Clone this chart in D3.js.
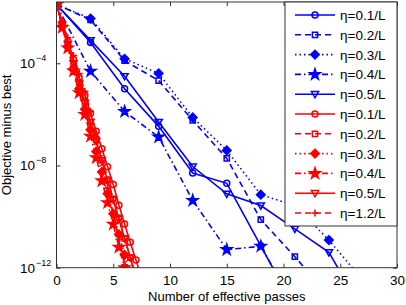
<!DOCTYPE html>
<html lang="en">
<head>
<meta charset="UTF-8">
<title>Objective minus best</title>
<script src="https://d3js.org/d3.v7.min.js"></script>
<style>
    body { margin: 0; background: #fff; }
    text { font-family: "Liberation Sans", Arial, sans-serif; fill: #000; }
</style>
</head>
<body>
<svg id="chart" width="406" height="305"></svg>
<script>
// passes at which the blue runs were recorded
const bluePasses = [0, 3, 6, 9, 12, 15, 18, 21, 24, 27];
// passes for the red runs
const redPasses = [0, 0.5, 1, 1.5, 2, 2.5, 3, 3.5, 4, 4.5, 5, 5.5, 6, 6.5, 7, 7.5, 8];

const blue01 = [2.0e-2, 6.5e-4, 1.0e-5, 3.4e-7, 5.1e-9, 2.0e-9, 7.2e-12, 2.5e-14];
const blue02 = [2.0e-2, 5.0e-3, 1.26e-4, 2.1e-5, 5.8e-7, 1.9e-8, 7.6e-11, 2.7e-12, 7.9e-14];
const blue03 = [2.0e-2, 5.6e-3, 1.5e-4, 4.0e-5, 7.6e-7, 3.9e-8, 7.2e-10, 2.7e-10, 1.2e-11, 3.2e-13];
const blue04 = [2.0e-2, 4.9e-5, 1.3e-6, 1.3e-7, 4.3e-10, 5.1e-12, 6.9e-12, 3.2e-14];
const blue05 = [2.0e-2, 7.9e-4, 3.1e-5, 5.0e-7, 9.1e-9, 7.8e-10, 2.7e-10, 3.3e-11, 4.0e-12, 2.0e-14];

const red01 = [2.0e-2, 3.5e-3, 7.1e-4, 1.4e-4, 2.8e-5, 5.6e-6, 1.1e-6, 2.2e-7, 4.5e-8, 8.9e-9, 1.8e-9, 2.8e-10, 5.1e-11, 1.0e-11, 2.0e-12, 4.0e-13, 7.9e-14];
const red02 = [2.0e-2, 3.2e-3, 5.0e-4, 1.0e-4, 1.8e-5, 3.2e-6, 5.0e-7, 1.0e-7, 1.6e-8, 2.8e-9, 5.0e-10, 8.9e-11, 1.4e-11, 2.5e-12, 4.5e-13];
const red03 = [2.0e-2, 2.8e-3, 4.5e-4, 6.3e-5, 1.0e-5, 1.6e-6, 2.5e-7, 3.5e-8, 5.6e-9, 7.9e-10, 1.3e-10, 2.0e-11, 3.2e-12, 5.0e-13];
const red04 = [2.0e-2, 2.5e-3, 4.0e-4, 5.0e-5, 7.1e-6, 1.0e-6, 1.4e-7, 2.0e-8, 2.5e-9, 3.5e-10, 5.0e-11, 6.3e-12, 1.0e-12, 1.3e-13];
const red05 = [2.0e-2, 3.2e-3, 5.6e-4, 1.0e-4, 1.6e-5, 2.8e-6, 5.0e-7, 8.9e-8, 1.6e-8, 2.5e-9, 4.5e-10, 7.9e-11, 1.4e-11, 2.5e-12, 4.0e-13];
const red12 = [2.0e-2, 4.5e-3, 1.0e-3, 2.0e-4, 4.0e-5, 7.9e-6, 1.3e-6, 1.3e-7, 1.3e-8, 1.3e-9, 1.3e-10, 1.3e-11, 1.3e-12, 1.3e-13];

const xTicks = [0, 5, 10, 15, 20, 25, 30];
const yTicks = [1e-12, 1e-8, 1e-4];

const series = [
    { label: "\u03b7=0.1/L", color: "#0000ff", dash: null, marker: "circle", x: bluePasses, y: blue01 },
    { label: "\u03b7=0.2/L", color: "#0000ff", dash: "6,4", marker: "square", x: bluePasses, y: blue02 },
    { label: "\u03b7=0.3/L", color: "#0000ff", dash: "1.5,3", marker: "diamond", x: bluePasses, y: blue03 },
    { label: "\u03b7=0.4/L", color: "#0000ff", dash: "6,3,1.5,3", marker: "star", x: bluePasses, y: blue04 },
    { label: "\u03b7=0.5/L", color: "#0000ff", dash: null, marker: "triangle", x: bluePasses, y: blue05 },
    { label: "\u03b7=0.1/L", color: "#ff0000", dash: null, marker: "circle", x: redPasses, y: red01 },
    { label: "\u03b7=0.2/L", color: "#ff0000", dash: "6,4", marker: "square", x: redPasses, y: red02 },
    { label: "\u03b7=0.3/L", color: "#ff0000", dash: "1.5,3", marker: "diamond", x: redPasses, y: red03 },
    { label: "\u03b7=0.4/L", color: "#ff0000", dash: "6,3,1.5,3", marker: "star", x: redPasses, y: red04 },
    { label: "\u03b7=0.5/L", color: "#ff0000", dash: null, marker: "triangle", x: redPasses, y: red05 },
    { label: "\u03b7=1.2/L", color: "#ff0000", dash: "6,4", marker: "plus", x: redPasses, y: red12 }
];

const svg = d3.select("#chart");
const pLeft = 56.5, pRight = 397, pTop = 2, pBottom = 267.7;

const x = d3.scaleLinear().domain([0, 30]).range([pLeft, pRight]);
const y = d3.scaleLog().domain([1e-12, 2.5e-2]).range([pBottom, pTop]);

// marker shapes, MATLAB style
function markerPath(kind) {
    if (kind === "circle") return d3.symbol(d3.symbolCircle, 28)();
    if (kind === "square") return "M-2.6,-2.6H2.6V2.6H-2.6Z";
    if (kind === "diamond") return "M0,-4.3L4.3,0L0,4.3L-4.3,0Z";
    if (kind === "star") return d3.symbol(d3.symbolStar, 36)();
    if (kind === "triangle") return "M-3.6,-2.6H3.6L0,3.6Z";
    if (kind === "plus") return "M-3.5,0H3.5M0,-3.5V3.5";
}
function markerFilled(kind) {
    return kind === "diamond" || kind === "star";
}

svg.append("defs").append("clipPath").attr("id", "plotClip")
    .append("rect")
    .attr("x", pLeft).attr("y", pTop)
    .attr("width", pRight - pLeft).attr("height", pBottom - pTop);

const plot = svg.append("g").attr("clip-path", "url(#plotClip)");

const line = d3.line()
    .x(d => x(d[0]))
    .y(d => y(d[1]));

series.forEach(s => {
    const pts = s.y.map((v, i) => [s.x[i], v]);
    plot.append("path")
        .datum(pts)
        .attr("fill", "none")
        .attr("stroke", s.color)
        .attr("stroke-width", 1.6)
        .attr("stroke-dasharray", s.dash)
        .attr("d", line);
    plot.selectAll(null)
        .data(pts)
        .enter().append("path")
        .attr("transform", d => `translate(${x(d[0])},${y(d[1])})`)
        .attr("d", markerPath(s.marker))
        .attr("fill", markerFilled(s.marker) ? s.color : "none")
        .attr("stroke", s.color)
        .attr("stroke-width", 1.5);
});

// axes box and ticks
const axisColor = "#333";
svg.append("rect")
    .attr("x", pLeft).attr("y", pTop)
    .attr("width", pRight - pLeft).attr("height", pBottom - pTop)
    .attr("fill", "none")
    .attr("stroke", axisColor)
    .attr("stroke-width", 1);

svg.append("g")
    .attr("transform", `translate(0,${pBottom})`)
    .call(d3.axisBottom(x).tickValues(xTicks).tickSizeInner(-4).tickSizeOuter(0).tickPadding(8))
    .call(g => g.select(".domain").remove())
    .call(g => g.selectAll("line").attr("stroke", axisColor))
    .call(g => g.selectAll("text").attr("font-size", 13.5).attr("font-family", "Liberation Sans, Arial, sans-serif"));

svg.append("g")
    .attr("transform", `translate(0,${pTop})`)
    .call(d3.axisTop(x).tickValues(xTicks).tickSizeInner(-4).tickSizeOuter(0).tickFormat(""))
    .call(g => g.select(".domain").remove())
    .call(g => g.selectAll("line").attr("stroke", axisColor));

svg.append("g")
    .attr("transform", `translate(${pLeft},0)`)
    .call(d3.axisLeft(y).tickValues(yTicks).tickSizeInner(-4).tickSizeOuter(0).tickFormat(""))
    .call(g => g.select(".domain").remove())
    .call(g => g.selectAll("line").attr("stroke", axisColor));

svg.append("g")
    .attr("transform", `translate(${pRight},0)`)
    .call(d3.axisRight(y).tickValues(yTicks).tickSizeInner(-4).tickSizeOuter(0).tickFormat(""))
    .call(g => g.select(".domain").remove())
    .call(g => g.selectAll("line").attr("stroke", axisColor));

// y tick labels as 10^k
yTicks.forEach(t => {
    svg.append("text")
        .attr("x", 35)
        .attr("y", y(t) + 5)
        .attr("text-anchor", "end")
        .attr("font-size", 13.5)
        .text("10");
    svg.append("text")
        .attr("x", 36)
        .attr("y", y(t) - 2)
        .attr("font-size", 9)
        .text("\u2212" + Math.round(-Math.log10(t)));
});

svg.append("text")
    .attr("x", (pLeft + pRight) / 2)
    .attr("y", 301)
    .attr("text-anchor", "middle")
    .attr("font-size", 13)
    .text("Number of effective passes");

svg.append("text")
    .attr("transform", `translate(11,${(pTop + pBottom) / 2}) rotate(-90)`)
    .attr("text-anchor", "middle")
    .attr("font-size", 13)
    .text("Objective minus best");

// legend
const legX = 285, legY = 2, legW = 112, legH = 224, rowH = 19.8;
const legend = svg.append("g");
legend.append("rect")
    .attr("x", legX).attr("y", legY)
    .attr("width", legW).attr("height", legH)
    .attr("fill", "#fff")
    .attr("stroke", axisColor);

const rows = legend.selectAll(".row")
    .data(series)
    .enter().append("g")
    .attr("class", "row")
    .attr("transform", (d, i) => `translate(0,${legY + 13 + i * rowH})`);

rows.append("line")
    .attr("x1", legX + 10).attr("x2", legX + 50)
    .attr("stroke", d => d.color)
    .attr("stroke-width", 1.6)
    .attr("stroke-dasharray", d => d.dash);

rows.append("path")
    .attr("transform", `translate(${legX + 30},0)`)
    .attr("d", d => markerPath(d.marker))
    .attr("fill", d => markerFilled(d.marker) ? d.color : "none")
    .attr("stroke", d => d.color)
    .attr("stroke-width", 1.5);

rows.append("text")
    .attr("x", legX + 55)
    .attr("y", 5)
    .attr("font-size", 13.5)
    .text(d => d.label);
</script>
</body>
</html>
